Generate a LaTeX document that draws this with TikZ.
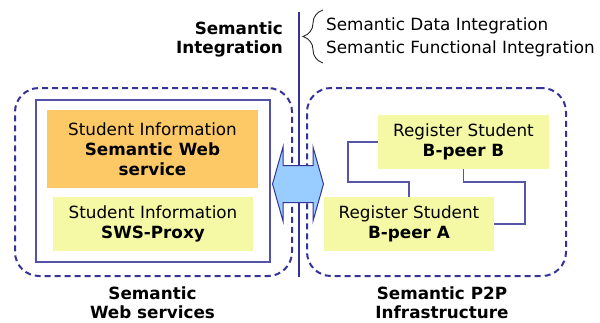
\documentclass[tikz,border=0pt]{standalone}
\usepackage{fontspec}
\setmainfont{DejaVu Sans}
\usetikzlibrary{decorations.pathreplacing,calc}
\definecolor{navy}{HTML}{333399}
\definecolor{linkblue}{HTML}{5555AA}
\definecolor{orangefill}{HTML}{FDC966}
\definecolor{yellowfill}{HTML}{F5F9A5}
\definecolor{arrowfill}{HTML}{99CCFF}
\begin{document}
\begin{tikzpicture}[x=1pt,y=-1pt,
  txt/.style={font=\fontsize{16.8}{20}\selectfont, inner sep=0pt, align=center},
  btxt/.style={font=\fontsize{16.8}{20}\selectfont\bfseries, inner sep=0pt, align=center},
  colbox/.style={txt, fill=#1, draw=none},
  groupbox/.style={draw=navy, line width=2, dash pattern=on 6pt off 4pt, rounded corners=24pt, inner sep=0pt},
  framebox/.style={draw=navy!85, line width=1.3, inner sep=0pt},
  link/.style={draw=linkblue, line width=1.3}
]
\useasboundingbox (0,0) rectangle (600,322);

% vertical separator
\coordinate (vt) at (299,12);
\coordinate (vb) at (299,277);
\draw[navy, line width=2] (vt) -- (vb);

% group boxes
\node[groupbox, minimum width=277, minimum height=188] (gl) at (153.5,182) {};
\node[groupbox, minimum width=259, minimum height=188] (gr) at (436.5,182) {};

% inner frame
\node[framebox, minimum width=234, minimum height=162] (frame) at (153,181) {};

% left boxes
\node[colbox=orangefill, minimum width=211, minimum height=78] (sws) at (152.5,149)
  {Student Information\\\textbf{Semantic Web}\\\textbf{service}};
\node[colbox=yellowfill, minimum width=200, minimum height=54] (proxy) at (153,224)
  {Student Information\\\textbf{SWS-Proxy}};

% right boxes
\coordinate (c1) at (348,182);
\coordinate (c2) at (525,182);
\node[colbox=yellowfill, minimum width=171, minimum height=54] (bB) at (463.5,142)
  {Register Student\\\textbf{B-peer B}};
\node[colbox=yellowfill, minimum width=170, minimum height=54] (bA) at (409,224)
  {Register Student\\\textbf{B-peer A}};
\draw[link] (bB.west) -| (c1) -| (bA.north);
\draw[link] (bB.south) |- (c2) |- (bA.east);

% double arrow
\coordinate (arr) at (298,184);
\path[draw=navy, fill=arrowfill, line width=1, line join=miter]
  ($(arr)+(-25.5,0)$) -- ++(10.5,-37) -- ++(0,18.5) -- ++(30,0) -- ++(0,-18.5)
  -- ++(10.5,37) -- ++(-10.5,37) -- ++(0,-18.5) -- ++(-30,0) -- ++(0,18.5) -- cycle;

% top labels
\node[btxt, anchor=north east, align=right] (si) at (283,21.5) {Semantic\\[-0.7pt]Integration};
\coordinate (bt) at (323,10);
\coordinate (bb) at (323,63);
\draw[black!85, line width=0.9, decorate, decoration={brace, amplitude=20pt}] (bb) -- (bt);
\node[txt, anchor=base west] (sdi) at (326,30) {Semantic Data Integration};
\node[txt, anchor=base west] (sfi) at (326,53.3) {Semantic Functional Integration};

% bottom labels
\node[btxt, anchor=north] (lws) at (152.5,286.5) {Semantic\\[-0.5pt]Web services};
\node[btxt, anchor=north] (lp2p) at (442,286.5) {Semantic P2P\\[-0.5pt]Infrastructure};
\end{tikzpicture}
\end{document}
